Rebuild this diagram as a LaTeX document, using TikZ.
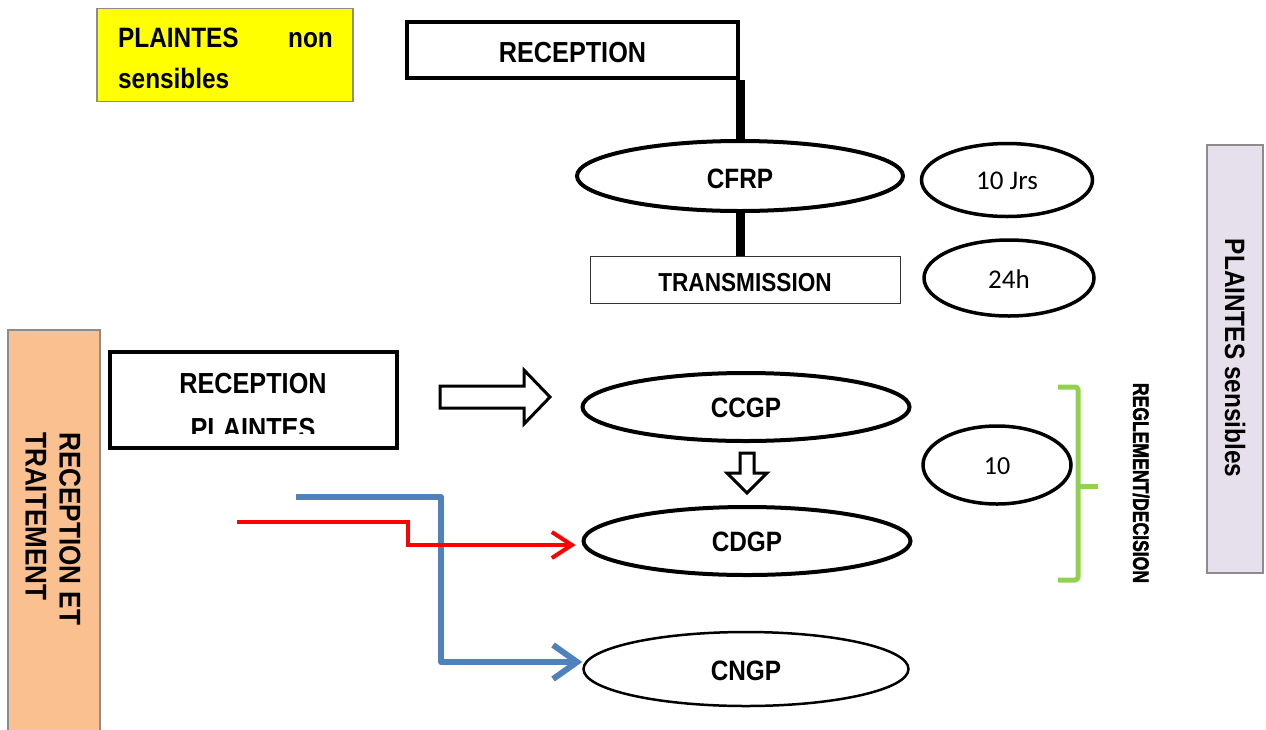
\documentclass[tikz,border=0pt]{standalone}
\usepackage{fontspec}
\setmainfont{Liberation Sans}
\newfontfamily\bsf{Liberation Sans}[FakeStretch=0.87]
\newfontfamily\heavysf{Liberation Sans}[FakeBold=2.5]
\newfontfamily\calfont{Carlito}
\usetikzlibrary{shapes.geometric,arrows.meta}
\definecolor{ybox}{HTML}{FFFF00}
\definecolor{obox}{HTML}{FAC090}
\definecolor{lbox}{HTML}{E6E0EC}
\definecolor{gbrd}{HTML}{8C8C8C}
\definecolor{grn}{HTML}{92D050}
\definecolor{blu}{HTML}{4F81BD}
\newcommand{\bt}[1]{\bsf\bfseries\fontsize{#1}{#1}\selectfont}
\newcommand{\ct}[1]{\calfont\fontsize{#1}{#1}\selectfont}
\begin{document}
\begin{tikzpicture}[x=1pt,y=-1pt,
  boxthick/.style={draw=black,line width=3.5pt,rectangle,inner sep=0pt,fill=white},
  boxthin/.style={draw=black!80,line width=1pt,rectangle,inner sep=0pt,fill=white},
  ell/.style={draw=black,line width=4pt,ellipse,inner sep=0pt,fill=white},
  ellthin/.style={draw=black,line width=2.5pt,ellipse,inner sep=0pt,fill=white},
  lab/.style={inner sep=0pt,font=\bt{28}},
  num/.style={inner sep=0pt,font=\ct{27}},
  bar/.style={line width=9pt},
  hollow/.style={draw=black,line width=3pt,line join=miter,fill=white},
  sidebox/.style={draw=gbrd,line width=1.5pt,rectangle,inner sep=0pt}
]
\useasboundingbox (0,0) rectangle (1266,729);

% yellow box
\node[sidebox,fill=ybox,minimum width=256pt,minimum height=93pt] (yel) at (225,55) {};
\node[lab,anchor=base west] (yel1) at (118,47) {PLAINTES};
\node[lab,anchor=base east] (yel2) at (333,47) {non};
\node[lab,anchor=base west] (yel3) at (118,88) {sensibles};

% top reception
\node[boxthick,minimum width=331pt,minimum height=56pt] (rt) at (572.5,50) {};
\node[lab,font=\bt{29}] (rtt) at (572.5,52.5) {RECEPTION};

% CFRP
\node[ell,minimum width=326pt,minimum height=70pt] (cfrp) at (740,176) {};
\node[lab] (cfrpt) at (740,179) {CFRP};

% transmission
\node[boxthin,minimum width=310pt,minimum height=47pt] (tr) at (745,279.5) {};
\node[lab,font=\bt{26}] (trt) at (745,283) {TRANSMISSION};

% connectors
\draw[bar] (cfrp.north |- rt.south) -- (cfrp.north);
\draw[bar] (cfrp.south) -- (cfrp.south |- tr.north);

% side ellipses
\node[ell,line width=3.5pt,minimum width=171pt,minimum height=73pt] (e10j) at (1007,180) {};
\node[num] (e10jt) at (1007,181) {10 Jrs};
\node[ell,line width=3.5pt,minimum width=170pt,minimum height=76pt] (e24) at (1009,278) {};
\node[num] (e24t) at (1009,279) {24h};
\node[ell,line width=3.5pt,minimum width=148pt,minimum height=78pt] (e10) at (997,465) {};
\node[num,font=\ct{26}] (e10t) at (997,466) {10};

% right lavender box
\node[sidebox,fill=lbox,minimum width=56pt,minimum height=428pt] (lav) at (1235,359) {};
\node[lab,rotate=-90] (lavt) at (1235,358) {PLAINTES sensibles};

% left orange box
\node[sidebox,fill=obox,minimum width=92pt,minimum height=420pt] (ora) at (54,540) {};
\node[lab,font=\bt{30},rotate=-90,align=left,anchor=west] (orat) at (53,432) {RECEPTION ET\\[4pt]TRAITEMENT};

% reception plaintes
\node[boxthick,minimum width=287pt,minimum height=96pt] (rp) at (253.5,400) {};
\node[lab,font=\bt{29}] (rpt1) at (253,384) {RECEPTION};
\begin{scope}
\clip (112,354) rectangle (395,433);
\node[lab,font=\bt{29}] (rpt2) at (253,428.5) {PLAINTES};
\end{scope}

% CCGP, CDGP, CNGP
\node[ell,minimum width=327pt,minimum height=68pt] (ccgp) at (746,407) {};
\node[lab] (ccgpt) at (746,408) {CCGP};
\node[ell,minimum width=327pt,minimum height=68pt] (cdgp) at (747,541) {};
\node[lab] (cdgpt) at (747,542) {CDGP};
\node[ellthin,minimum width=325pt,minimum height=74pt] (cngp) at (746,669) {};
\node[lab] (cngpt) at (746,671) {CNGP};

% hollow arrows
\draw[hollow] (440,386) -- (524,386) -- (524,370) -- (550,397) -- (524,424) -- (524,408) -- (440,408) -- cycle;
\draw[hollow] (740,453) -- (754,453) -- (754,473) -- (767,473) -- (747,493) -- (727,473) -- (740,473) -- cycle;

% blue and red connectors
\coordinate (bstart) at (296,497);
\coordinate (rstart) at (237,522);
\draw[blu,line width=6pt,line join=round,-{Straight Barb[length=24pt,width=34pt,line width=6pt]}]
  (bstart) -- (441,497) -- (441,662) -- (cngp.west |- 0,662);
\draw[red,line width=4pt,line join=miter,-{Straight Barb[length=20pt,width=26pt,line width=4pt]}]
  (rstart) -- (408,522) -- (408,545) -- ([xshift=-6pt]cdgp.west |- 0,545);

% green bracket
\draw[grn,line width=5pt,rounded corners=3pt] (1058,387) -- (1078,387) -- (1078,580) -- (1058,580);
\draw[grn,line width=5pt] (1078,486) -- (1098,486);
\node[inner sep=0pt,rotate=-90] (regl) at (1141,483) {\resizebox{200pt}{16pt}{\heavysf\bfseries REGLEMENT/DECISION}};

\end{tikzpicture}
\end{document}
